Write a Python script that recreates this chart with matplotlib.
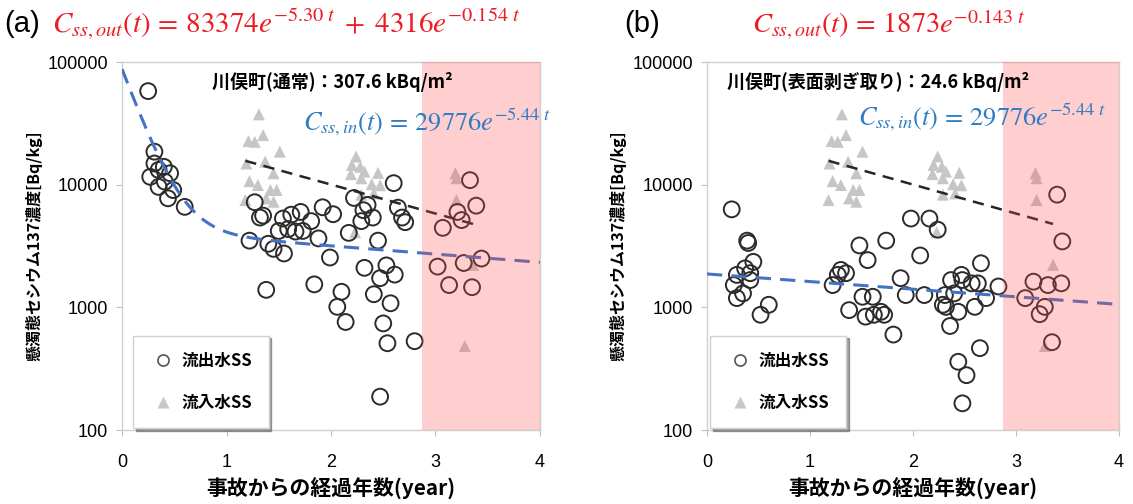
import numpy as np
import matplotlib
matplotlib.use("Agg")
import matplotlib.pyplot as plt
from matplotlib.lines import Line2D

plt.rcParams['mathtext.fontset'] = 'stix'
CJK = ['Noto Sans CJK JP', 'DejaVu Sans']
NUM = ['Liberation Sans', 'DejaVu Sans']

# ---- outflow SS, panel (a): 川俣町(通常) ----
out_a_t = [0.25, 0.31, 0.31, 0.27, 0.35, 0.40, 0.46, 0.41, 0.35, 0.49, 0.44, 0.60,
           1.27, 1.32, 1.35, 1.22, 1.40, 1.45, 1.55, 1.50, 1.54, 1.62, 1.71, 1.59,
           1.66, 1.73, 1.81, 1.88, 1.92, 2.02, 1.99, 1.38, 1.84, 2.10, 2.06, 2.14,
           2.17, 2.22, 2.29, 2.31, 2.35, 2.40, 2.45, 2.32, 2.47, 2.53, 2.61, 2.41,
           2.57, 2.50, 2.54, 2.60, 2.64, 2.68, 2.71, 2.80, 2.47,
           3.33, 3.39, 3.21, 3.25, 3.07, 3.02, 3.27, 3.44, 3.13, 3.35]
out_a_c = [58000, 18600, 14900, 11600, 13200, 14000, 12400, 10600, 9600, 9050, 7750, 6600,
           7200, 5400, 5600, 3500, 3300, 3000, 2750, 4200, 5300, 5700, 6000, 4350,
           4150, 4200, 5050, 3650, 6550, 5750, 2550, 1390, 1540, 1340, 1010, 760,
           4050, 7800, 5050, 6200, 6850, 5400, 3500, 2100, 1730, 2200, 1850, 1280,
           1080, 740, 510, 10300, 6500, 5400, 4950, 530, 187,
           10900, 6750, 6000, 5150, 4450, 2150, 2300, 2500, 1520, 1460]

# ---- outflow SS, panel (b): 川俣町(表面剥ぎ取り) ----
out_b_t = [0.24, 0.39, 0.40, 0.45, 0.37, 0.42, 0.29, 0.42, 0.26, 0.35, 0.29, 0.60, 0.52,
           1.48, 1.74, 1.98, 2.16, 2.24, 1.56, 1.30, 1.35, 1.27, 1.22, 1.51, 1.61,
           1.38, 1.54, 1.62, 1.69, 1.72, 1.81, 1.88, 1.93, 2.07, 2.66, 2.37, 2.47,
           2.48, 2.57, 2.63, 2.83, 2.11, 2.31, 2.40, 2.71, 2.29, 2.32, 2.60, 2.44,
           2.36, 2.65, 2.44, 2.52, 2.48,
           3.45, 3.40, 3.17, 3.31, 3.44, 3.09, 3.28, 3.23, 3.35]
out_b_c = [6300, 3500, 3350, 2350, 2080, 1900, 1840, 1670, 1520, 1300, 1190, 1050, 870,
           3200, 3500, 5300, 5300, 4300, 2430, 2020, 1900, 1840, 1520, 1220, 1220,
           950, 840, 870, 920, 870, 600, 1730, 1260, 2650, 2290, 1670, 1840,
           1670, 1570, 1570, 1480, 1260, 1260, 1300, 1190, 1050, 1010, 1010, 920,
           705, 465, 360, 280, 165,
           3450, 8300, 1620, 1520, 1570, 1190, 1010, 880, 520]

# ---- inflow SS (common to both panels) ----
in_t = [1.31, 1.35, 1.21, 1.27, 1.51, 1.19, 1.37, 1.45, 1.22, 1.30, 1.42, 1.48,
        1.18, 1.38, 1.45,
        2.24, 2.20, 2.28, 2.32, 2.19, 2.45, 2.29, 2.39, 2.47, 2.41, 2.29, 2.23,
        3.19, 3.20, 3.20, 3.36, 3.28]
in_c = [37500, 25400, 22700, 22400, 18600, 14900, 15400, 12400, 10700, 9950, 9060, 9060,
        7500, 7740, 7270,
        17000, 14500, 14000, 12800, 12200, 12500, 11300, 10100, 9900, 8500, 8300, 4100,
        12400, 11300, 7500, 2220, 484]

# ---- fitted curves ----
fit_out_a = (83374, 5.30, 4316, 0.154)   # two-term exponential
fit_out_b = (1873, 0.143)
fit_in = (29776, 0.544)
fit_in_span = (1.18, 3.36)
pink_span = (2.87, 4.0)

x_ticks = [0, 1, 2, 3, 4]
y_ticks = [100, 1000, 10000, 100000]
y_ticklabels = ['100', '1000', '10000', '100000']

xlabel = '事故からの経過年数(year)'
ylabel = '懸濁態セシウム137濃度[Bq/kg]'

fig = plt.figure(figsize=(11.33, 5.04), dpi=100)
ax_a = fig.add_axes([0.1077, 0.1468, 0.3689, 0.730])
ax_b = fig.add_axes([0.6240, 0.1468, 0.3636, 0.730])

circ_kw = dict(marker='o', s=130, facecolors='none', edgecolors='#2b2b2b',
               linewidths=1.4, zorder=3)
tri_kw = dict(marker='^', s=75, color='#c6c6c6', edgecolors='none', zorder=2)
blue = '#4472c4'


def style(ax, legend_anchor, site_text, in_eq):
    ax.set_yscale('log')
    ax.set_xlim(0, 4)
    ax.set_ylim(100, 100000)
    ax.set_xticks(x_ticks)
    ax.set_xticklabels([str(v) for v in x_ticks], family=NUM, fontsize=13)
    ax.set_yticks(y_ticks)
    ax.set_yticklabels(y_ticklabels, family=NUM, fontsize=13)
    ax.yaxis.set_minor_locator(matplotlib.ticker.NullLocator())
    ax.tick_params(axis='both', direction='out', length=4, color='#bfbfbf', pad=13)
    ax.tick_params(axis='y', pad=6)
    for s in ax.spines.values():
        s.set_color('#d0d0d0')
        s.set_linewidth(1.0)
    ax.set_xlabel(xlabel, family=CJK, fontsize=15, fontweight='bold', labelpad=5)
    ax.set_ylabel(ylabel, family=CJK, fontsize=11.5, fontweight='bold', labelpad=4)
    ax.axvspan(*pink_span, color='#ff4d4d', alpha=0.27, lw=0, zorder=5)
    ax.text(*site_text[0], site_text[1], transform=ax.transAxes, family=CJK,
            fontsize=13, fontweight='bold', va='center', ha='left', zorder=6)
    ax.text(*in_eq[0], in_eq[1], transform=ax.transAxes, fontsize=19,
            color='#2e7cc4', va='center', ha='left', zorder=6, clip_on=False)
    handles = [Line2D([], [], marker='o', ls='none', mfc='none', mec='#555555',
                      mew=1.2, ms=8, label='流出水SS'),
               Line2D([], [], marker='^', ls='none', mfc='#c8c8c8', mec='none',
                      ms=8, label='流入水SS')]
    leg = ax.legend(handles=handles, loc='lower left', bbox_to_anchor=legend_anchor,
                    borderaxespad=0, frameon=True, fancybox=False, shadow=True,
                    edgecolor='#d0d0d0', labelspacing=1.4, borderpad=1.0,
                    handletextpad=0.3, handlelength=1.6,
                    prop={'family': CJK, 'weight': 'bold', 'size': 12})
    leg.set_zorder(7)


tt = np.linspace(0, 4, 300)
ti = np.linspace(*fit_in_span, 50)

# panel (a)
ax_a.scatter(in_t, in_c, **tri_kw)
ax_a.scatter(out_a_t, out_a_c, **circ_kw)
A1, k1, A2, k2 = fit_out_a
ax_a.plot(tt, A1 * np.exp(-k1 * tt) + A2 * np.exp(-k2 * tt), color=blue, lw=2.2,
          dashes=(5, 3), zorder=4)
ax_a.plot(ti, fit_in[0] * np.exp(-fit_in[1] * ti), color='#262626', lw=1.8,
          dashes=(4.5, 3), zorder=4)
style(ax_a, (0.026, 0.005),
      ((0.215, 0.946), '川俣町(通常)：307.6 kBq/m²'),
      ((0.433, 0.837), r'$C_{ss,in}(t)\,=\,29776e^{-5.44\ t}$'))

# panel (b)
ax_b.scatter(in_t, in_c, **tri_kw)
ax_b.scatter(out_b_t, out_b_c, **circ_kw)
B, kb = fit_out_b
ax_b.plot(tt, B * np.exp(-kb * tt), color=blue, lw=2.2, dashes=(5, 3), zorder=4)
ax_b.plot(ti, fit_in[0] * np.exp(-fit_in[1] * ti), color='#262626', lw=1.8,
          dashes=(4.5, 3), zorder=4)
style(ax_b, (0.008, 0.005),
      ((0.049, 0.946), '川俣町(表面剥ぎ取り)：24.6 kBq/m²'),
      ((0.367, 0.851), r'$C_{ss,in}(t)\,=\,29776e^{-5.44\ t}$'))

# panel headings with fitted outflow equations
red = '#ee1c25'
fig.text(0.004, 0.953, '(a)', fontsize=21, family=NUM, va='center', ha='left')
fig.text(0.046, 0.953, r'$C_{ss,out}(t)\,=\,83374e^{-5.30\ t}\;+\;4316e^{-0.154\ t}$',
         fontsize=21, color=red, va='center', ha='left')
fig.text(0.551, 0.953, '(b)', fontsize=21, family=NUM, va='center', ha='left')
fig.text(0.664, 0.953, r'$C_{ss,out}(t)\,=\,1873e^{-0.143\ t}$',
         fontsize=20.5, color=red, va='center', ha='left')

fig.savefig('out.png', dpi=100)
